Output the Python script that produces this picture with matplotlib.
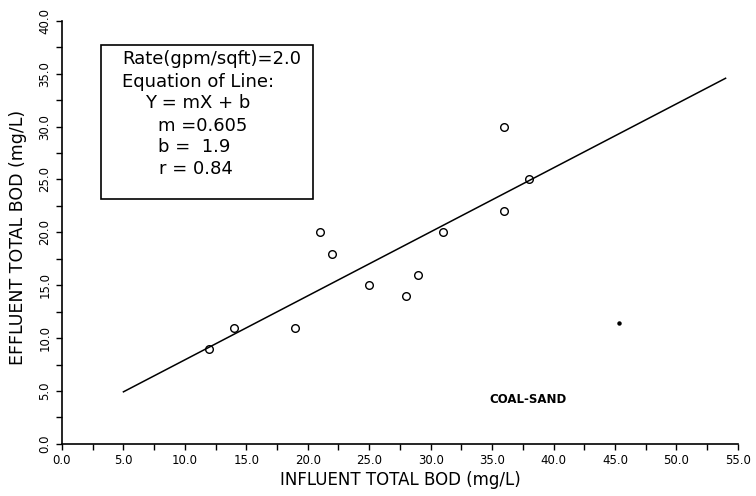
import matplotlib
matplotlib.use("Agg")
import matplotlib.pyplot as plt
import numpy as np
from matplotlib.patches import Rectangle
from matplotlib.ticker import MultipleLocator

# Values
influent = [12, 14, 19, 21, 22, 25, 28, 29, 31, 36, 36, 38]
effluent = [9, 11, 11, 20, 18, 15, 14, 16, 20, 30, 22, 25]
stray_x = [45.3]
stray_y = [11.4]

slope = 0.605
intercept = 1.9
line_x = [5.0, 54.0]

box_lines = ["Rate(gpm/sqft)=2.0", "Equation of Line:", "Y = mX + b",
             "m =0.605", "b =  1.9", "r = 0.84"]

plt.rcParams["font.family"] = ["DejaVu Sans"]

fig = plt.figure(figsize=(7.56, 4.96), dpi=100)
ax = fig.add_axes([0.082, 0.105, 0.894, 0.853])

ax.plot(influent, effluent, linestyle="none", marker="o", markersize=5.5,
        markerfacecolor="none", markeredgecolor="black", markeredgewidth=1.0)
ax.plot(stray_x, stray_y, linestyle="none", marker="o", markersize=2.2,
        color="black")

lx = np.array(line_x)
ax.plot(lx, slope * lx + intercept, color="black", linewidth=1.1)

ax.set_xlim(0, 55)
ax.set_ylim(0, 40)
ax.xaxis.set_major_locator(MultipleLocator(5))
ax.xaxis.set_minor_locator(MultipleLocator(2.5))
ax.yaxis.set_major_locator(MultipleLocator(5))
ax.yaxis.set_minor_locator(MultipleLocator(2.5))
ax.xaxis.set_major_formatter(plt.FormatStrFormatter("%.1f"))
ax.yaxis.set_major_formatter(plt.FormatStrFormatter("%.1f"))
ax.tick_params(which="both", direction="out", length=4, width=1, labelsize=8.5)
for lab in ax.get_yticklabels():
    lab.set_rotation(90)
    lab.set_va("center")

for side in ("top", "right"):
    ax.spines[side].set_visible(False)
for side in ("left", "bottom"):
    ax.spines[side].set_linewidth(1.2)

ax.set_xlabel("INFLUENT TOTAL BOD (mg/L)", fontsize=12)
ax.xaxis.set_label_coords(0.5, -0.063)
ax.set_ylabel("EFFLUENT TOTAL BOD (mg/L)", fontsize=12.5)
ax.yaxis.set_label_coords(-0.052, 0.487)

# box with the fit
ax.add_patch(Rectangle((3.17, 23.16), 17.23, 14.54, fill=False,
                       edgecolor="black", linewidth=1.2))
ys = [36.4, 34.2, 32.2, 30.05, 28.05, 26.0]
xs = [4.88, 4.88, 6.75, 7.8, 7.8, 7.9]
for tx, ty, s in zip(xs, ys, box_lines):
    ax.text(tx, ty, s, fontsize=13, va="center", ha="left")

ax.text(37.9, 4.16, "COAL-SAND", fontsize=8.5, fontweight="bold",
        ha="center", va="center")

fig.savefig("out.png", dpi=100)
